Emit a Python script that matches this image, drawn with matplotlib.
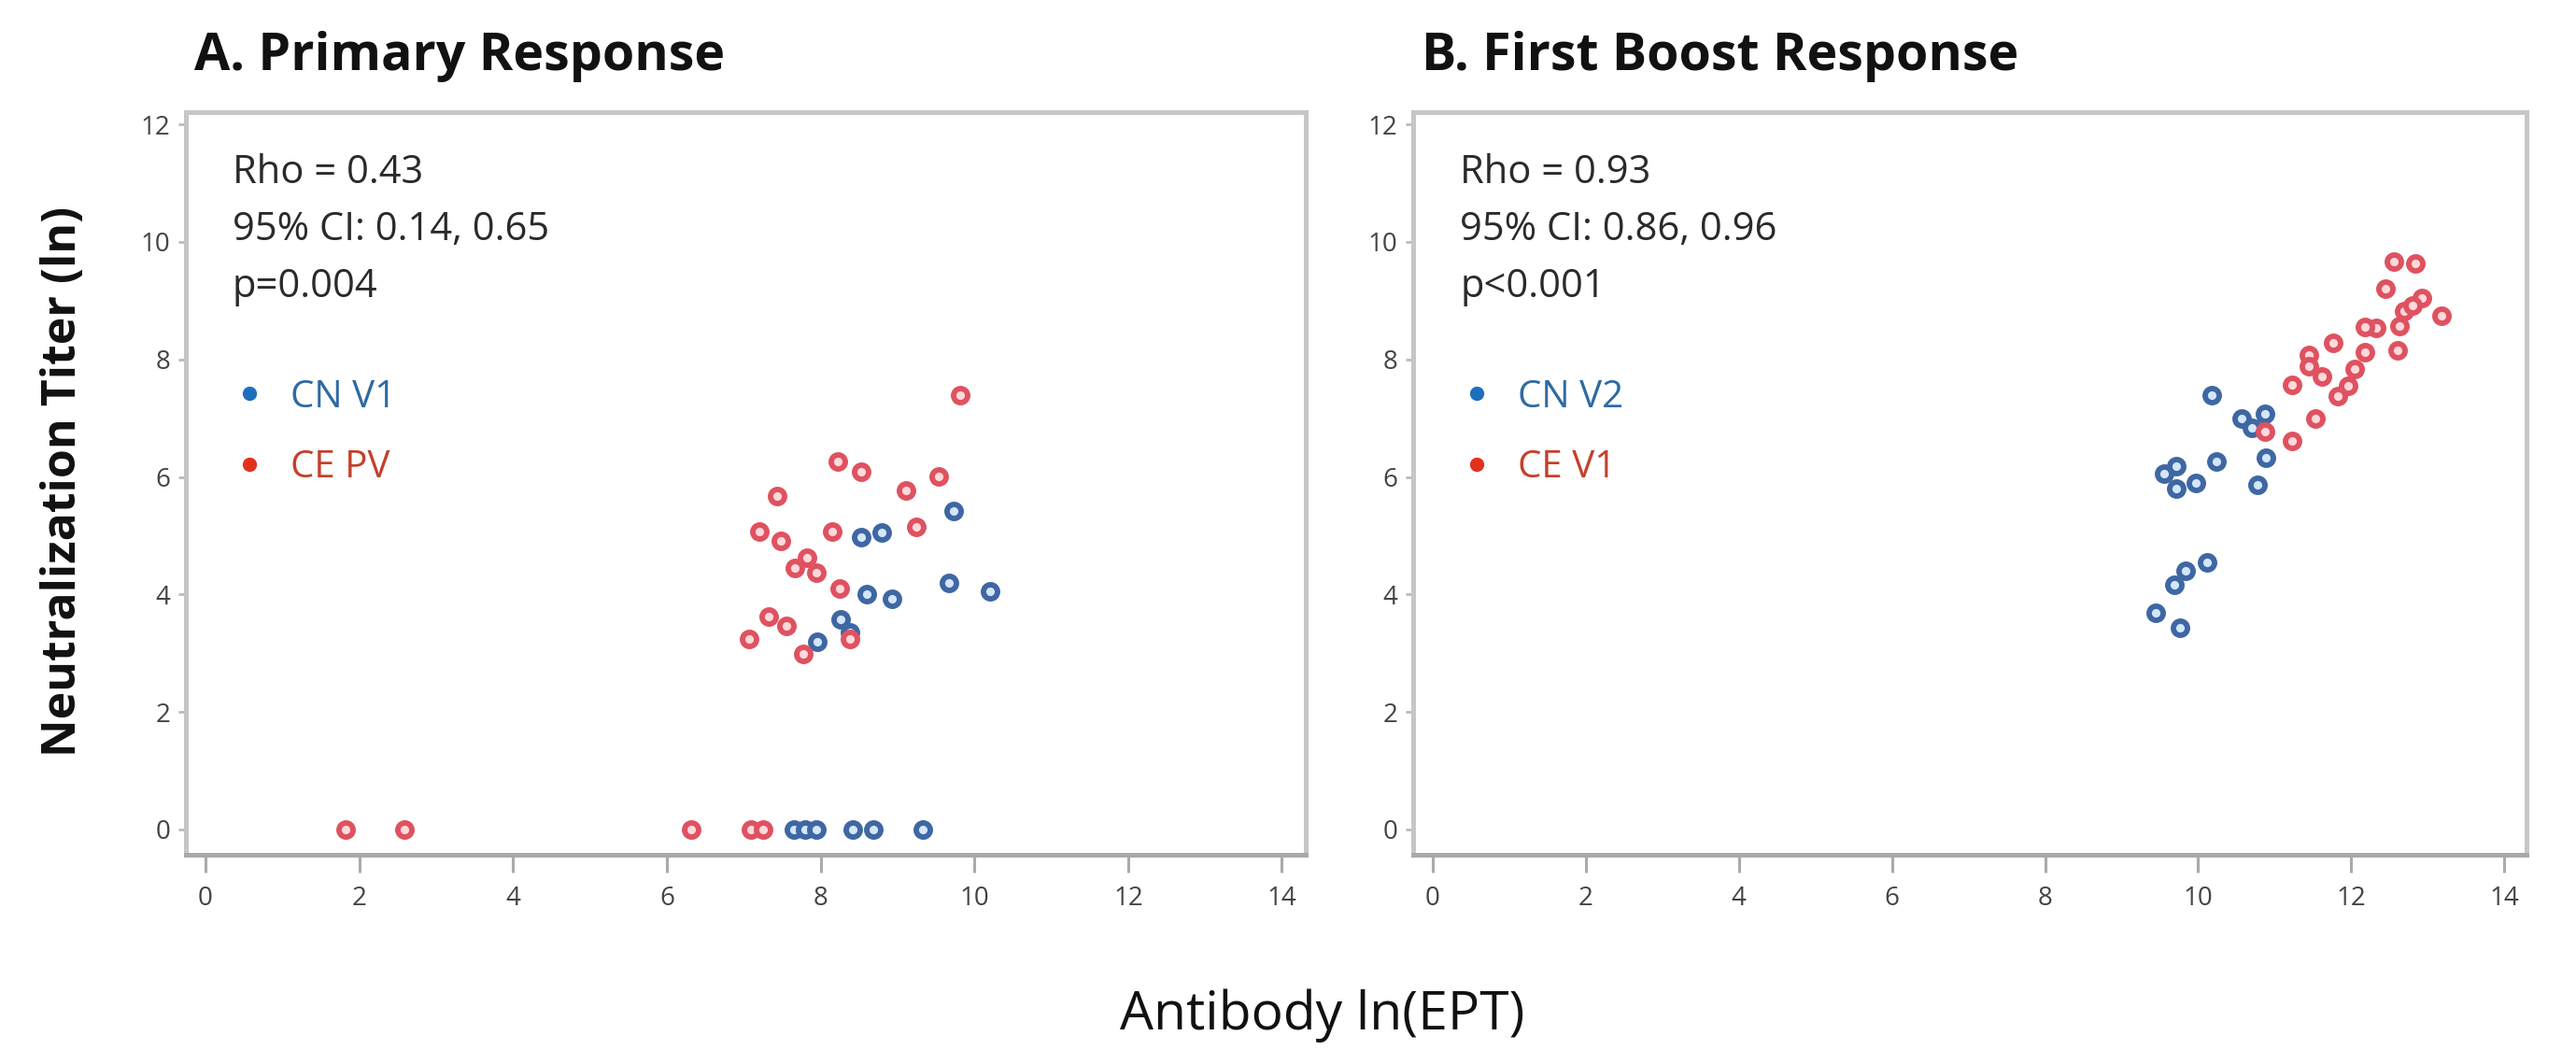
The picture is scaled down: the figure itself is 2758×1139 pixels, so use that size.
import matplotlib
matplotlib.use("Agg")
import matplotlib.pyplot as plt
from matplotlib.lines import Line2D

# ---------------- data ----------------
# Panel A: Primary response
a_cn_x = [9.73, 8.53, 8.79, 8.60, 8.93, 9.67, 10.20, 8.26, 8.38, 7.96,
          7.65, 7.80, 7.95, 8.42, 8.69, 9.33]
a_cn_y = [5.42, 4.98, 5.06, 4.01, 3.92, 4.19, 4.06, 3.57, 3.36, 3.20,
          0, 0, 0, 0, 0, 0]
a_ce_x = [9.81, 8.22, 8.53, 9.54, 9.11, 7.43, 7.20, 7.48, 8.15, 9.25,
          7.82, 7.67, 7.94, 8.25, 7.33, 7.55, 7.07, 7.77, 8.38,
          1.82, 2.59, 6.32, 7.09, 7.25]
a_ce_y = [7.39, 6.27, 6.09, 6.01, 5.77, 5.68, 5.07, 4.91, 5.07, 5.15,
          4.63, 4.45, 4.37, 4.10, 3.62, 3.47, 3.24, 2.99, 3.25,
          0, 0, 0, 0, 0]

# Panel B: First boost response
b_cn_x = [9.44, 9.76, 9.69, 9.83, 10.12, 10.78, 10.18, 10.57, 10.87, 10.70,
          10.89, 10.24, 9.56, 9.71, 9.71, 9.97]
b_cn_y = [3.69, 3.44, 4.16, 4.40, 4.54, 5.86, 7.40, 7.00, 7.07, 6.83,
          6.33, 6.27, 6.06, 6.19, 5.80, 5.90]
b_ce_x = [12.56, 12.84, 12.45, 12.92, 13.18, 12.69, 12.63, 12.60, 12.33, 12.18,
          11.76, 12.18, 12.05, 11.96, 11.83, 11.45, 11.45, 11.62, 11.23, 11.53,
          11.23, 10.87, 12.80]
b_ce_y = [9.66, 9.63, 9.20, 9.04, 8.74, 8.83, 8.57, 8.16, 8.53, 8.55,
          8.29, 8.13, 7.84, 7.55, 7.38, 8.08, 7.89, 7.71, 7.57, 7.00,
          6.62, 6.78, 8.92]

titles = ["A. Primary Response", "B. First Boost Response"]
stats = [["Rho = 0.43", "95% CI: 0.14, 0.65", "p=0.004"],
         ["Rho = 0.93", "95% CI: 0.86, 0.96", "p<0.001"]]
legend_labels = [["CN V1", "CE PV"], ["CN V2", "CE V1"]]
xticks = [0, 2, 4, 6, 8, 10, 12, 14]
yticks = [0, 2, 4, 6, 8, 10, 12]
ylabel = "Neutralization Titer (ln)"
xlabel = "Antibody ln(EPT)"

# ---------------- style ----------------
plt.rcParams['font.family'] = ['Open Sans', 'DejaVu Sans']
W, H = 2758, 1139
fig = plt.figure(figsize=(W / 100, H / 100), dpi=100)
fig.patch.set_facecolor('white')

def fx(px):
    return px / W

def fy(py):
    return 1 - py / H

BLUE_EDGE = '#3f67a3'
BLUE_FACE = '#d3e6fa'
RED_EDGE = '#df5260'
RED_FACE = '#ffd8dc'
BLUE_LEG = '#1f6fbf'
RED_LEG = '#e2321c'
BLUE_TXT = '#2f6aa3'
RED_TXT = '#c53f2a'

boxes = [(199, 1398), (1513, 2705)]
top_px, bot_px = 120, 915
xlims = [(-0.255, 14.31), (-0.256, 14.29)]
ylim = (-0.43, 12.21)

data = [((a_cn_x, a_cn_y), (a_ce_x, a_ce_y)),
        ((b_cn_x, b_cn_y), (b_ce_x, b_ce_y))]

for i, ((l, r), xl) in enumerate(zip(boxes, xlims)):
    ax = fig.add_axes([fx(l), fy(bot_px), (r - l) / W, (bot_px - top_px) / H])
    (cx, cy), (ex, ey) = data[i]
    ax.scatter(cx, cy, s=118, facecolors=BLUE_FACE, edgecolors=BLUE_EDGE,
               linewidths=4.2, zorder=3)
    ax.scatter(ex, ey, s=118, facecolors=RED_FACE, edgecolors=RED_EDGE,
               linewidths=4.2, zorder=3)
    ax.set_xlim(*xl)
    ax.set_ylim(*ylim)
    ax.set_xticks(xticks)
    ax.set_yticks(yticks)
    ax.set_xticklabels([str(t) for t in xticks], fontsize=20, color='#444444')
    ax.set_yticklabels([str(t) for t in yticks], fontsize=20, color='#444444')
    ax.tick_params(axis='x', length=14, width=2.2, color='#aaaaaa', pad=10)
    ax.tick_params(axis='y', length=6, width=2.0, color='#bbbbbb', pad=6)
    for name, sp in ax.spines.items():
        sp.set_linewidth(3.6)
        sp.set_color('#c6c6c6')
    ax.spines['bottom'].set_color('#a9a9a9')

    # title
    fig.text(fx(l + 9), fy(75), titles[i], fontsize=40, fontweight='bold',
             color='#111111', ha='left', va='baseline')

    # stats text
    tx = l + 50
    for k, line in enumerate(stats[i]):
        fig.text(fx(tx), fy(185 + 61 * k), line, fontsize=30, color='#2a2a2a',
                 ha='left', va='center')

    # legend
    handles = [Line2D([], [], linestyle='none', marker='o', markersize=10,
                      markerfacecolor=BLUE_LEG, markeredgecolor=BLUE_LEG),
               Line2D([], [], linestyle='none', marker='o', markersize=10,
                      markerfacecolor=RED_LEG, markeredgecolor=RED_LEG)]
    leg = ax.legend(handles, legend_labels[i], loc='upper left',
                    bbox_to_anchor=(fx(l + 48), fy(405)),
                    bbox_transform=fig.transFigure, frameon=False,
                    fontsize=29, handletextpad=0.6, labelspacing=0.86,
                    handlelength=1.0, borderaxespad=0, borderpad=0)
    leg.get_texts()[0].set_color(BLUE_TXT)
    leg.get_texts()[1].set_color(RED_TXT)

fig.text(fx(68), fy(515), ylabel, rotation=90, fontsize=36, fontweight='bold',
         color='#111111', ha='center', va='center')
fig.text(fx(1416), fy(1087), xlabel, fontsize=41, color='#111111',
         ha='center', va='center')

fig.savefig('out.png', dpi=100, facecolor='white')
